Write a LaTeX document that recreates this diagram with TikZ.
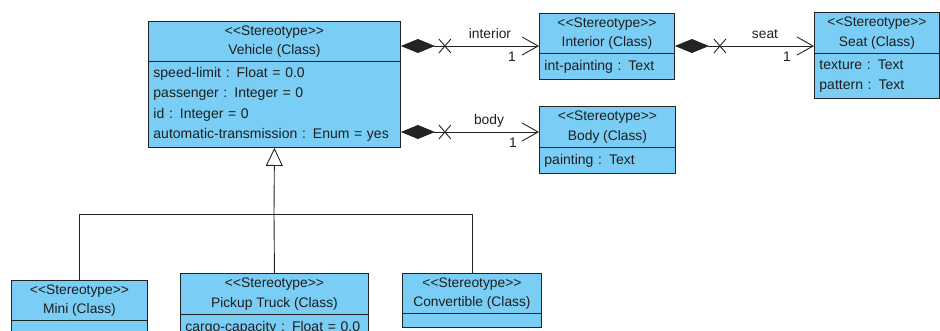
\documentclass[tikz,border=0pt]{standalone}
\usepackage{fontspec}
\setmainfont{Liberation Sans}[Ligatures=TeXOff]
\usetikzlibrary{arrows.meta,calc}
\definecolor{clsfill}{RGB}{122,206,245}
\definecolor{linec}{RGB}{35,35,35}
\definecolor{txtc}{RGB}{30,30,30}
\begin{document}
\begin{tikzpicture}[x=1pt,y=-1pt,
  box/.style={draw=linec, fill=clsfill, line width=0.9pt, inner sep=0pt, anchor=north west, text=txtc},
  hdr/.style={box, align=center, font=\fontsize{13.8}{19.5}\selectfont},
  attr/.style={box, align=left, inner xsep=5pt, font=\fontsize{14}{20.3}\selectfont},
  lbl/.style={font=\fontsize{13.8}{16}\selectfont, text=txtc, inner sep=0pt},
  conn/.style={draw=linec, line width=0.9pt},
  comp/.style={conn, {Diamond[length=34pt,width=14pt]}-{Straight Barb[length=16pt,width=18pt]}},
  xmark/.style={conn}
]
\useasboundingbox (0,0) rectangle (940,331);
\clip (0,0) rectangle (940,331);
% Vehicle
\node[hdr, minimum width=252, minimum height=40] (vehH) at (148,21) {<<Stereotype>>\\Vehicle (Class)};
\node[attr, minimum width=252, minimum height=86, text width=242] (vehA) at (148,61) {speed-limit : Float = 0.0\\passenger : Integer = 0\\id : Integer = 0\\automatic-transmission : Enum = yes};
% Interior
\node[hdr, minimum width=135, minimum height=40] (intH) at (539,13) {<<Stereotype>>\\Interior (Class)};
\node[attr, minimum width=135, minimum height=26, text width=125] (intA) at (539,53) {int-painting : Text};
% Seat
\node[hdr, minimum width=125, minimum height=41] (seatH) at (814,12) {<<Stereotype>>\\Seat (Class)};
\node[attr, minimum width=125, minimum height=45, text width=115] (seatA) at (814,53) {texture : Text\\pattern : Text};
% Body
\node[hdr, minimum width=136, minimum height=41] (bodyH) at (539,106) {<<Stereotype>>\\Body (Class)};
\node[attr, minimum width=136, minimum height=26, text width=126] (bodyA) at (539,147) {painting : Text};
% Mini
\node[hdr, minimum width=136, minimum height=40] (miniH) at (11,280) {<<Stereotype>>\\Mini (Class)};
\node[attr, minimum width=136, minimum height=30, text width=126] (miniA) at (11,320) {};
% Pickup
\node[hdr, minimum width=188, minimum height=41] (pickH) at (180,273) {<<Stereotype>>\\Pickup Truck (Class)};
\node[attr, minimum width=188, minimum height=26, text width=178] (pickA) at (180,314) {cargo-capacity : Float = 0.0};
% Convertible
\node[hdr, minimum width=139, minimum height=40] (convH) at (402,273) {<<Stereotype>>\\Convertible (Class)};
\node[attr, minimum width=139, minimum height=14, text width=129] (convA) at (402,313) {};

% compositions
\coordinate (c1) at ($(vehH.north east)+(0,25)$);
\draw[comp] (c1) -- (c1 -| intH.west);
\draw[xmark] ($(c1)+(38,-7)$) -- ++(12,14) ($(c1)+(38,7)$) -- ++(12,-14);
\node[lbl] (l1) at (490,34) {interior};
\node[lbl] (m1) at (512,57) {1};

\coordinate (c2) at ($(intH.north east)+(0,33)$);
\draw[comp] (c2) -- (c2 -| seatH.west);
\draw[xmark] ($(c2)+(39,-7)$) -- ++(12,14) ($(c2)+(39,7)$) -- ++(12,-14);
\node[lbl] (l2) at (765,34) {seat};
\node[lbl] (m2) at (787,57) {1};

\coordinate (c3) at ($(vehA.north east)+(0,71)$);
\draw[comp] (c3) -- (c3 -| bodyH.west);
\draw[xmark] ($(c3)+(38,-7)$) -- ++(12,14) ($(c3)+(38,7)$) -- ++(12,-14);
\node[lbl] (l3) at (489,121) {body};
\node[lbl] (m3) at (513,143) {1};

% generalization
\coordinate (j) at (274,214);
\draw[conn, -{Triangle[open,length=18pt,width=17pt,fill=white]}] (j) -- (vehA.south);
\draw[conn] (miniH.north) |- (convH.north |- j) -- (convH.north);
\draw[conn] (pickH.north) -- (j);
\end{tikzpicture}
\end{document}
